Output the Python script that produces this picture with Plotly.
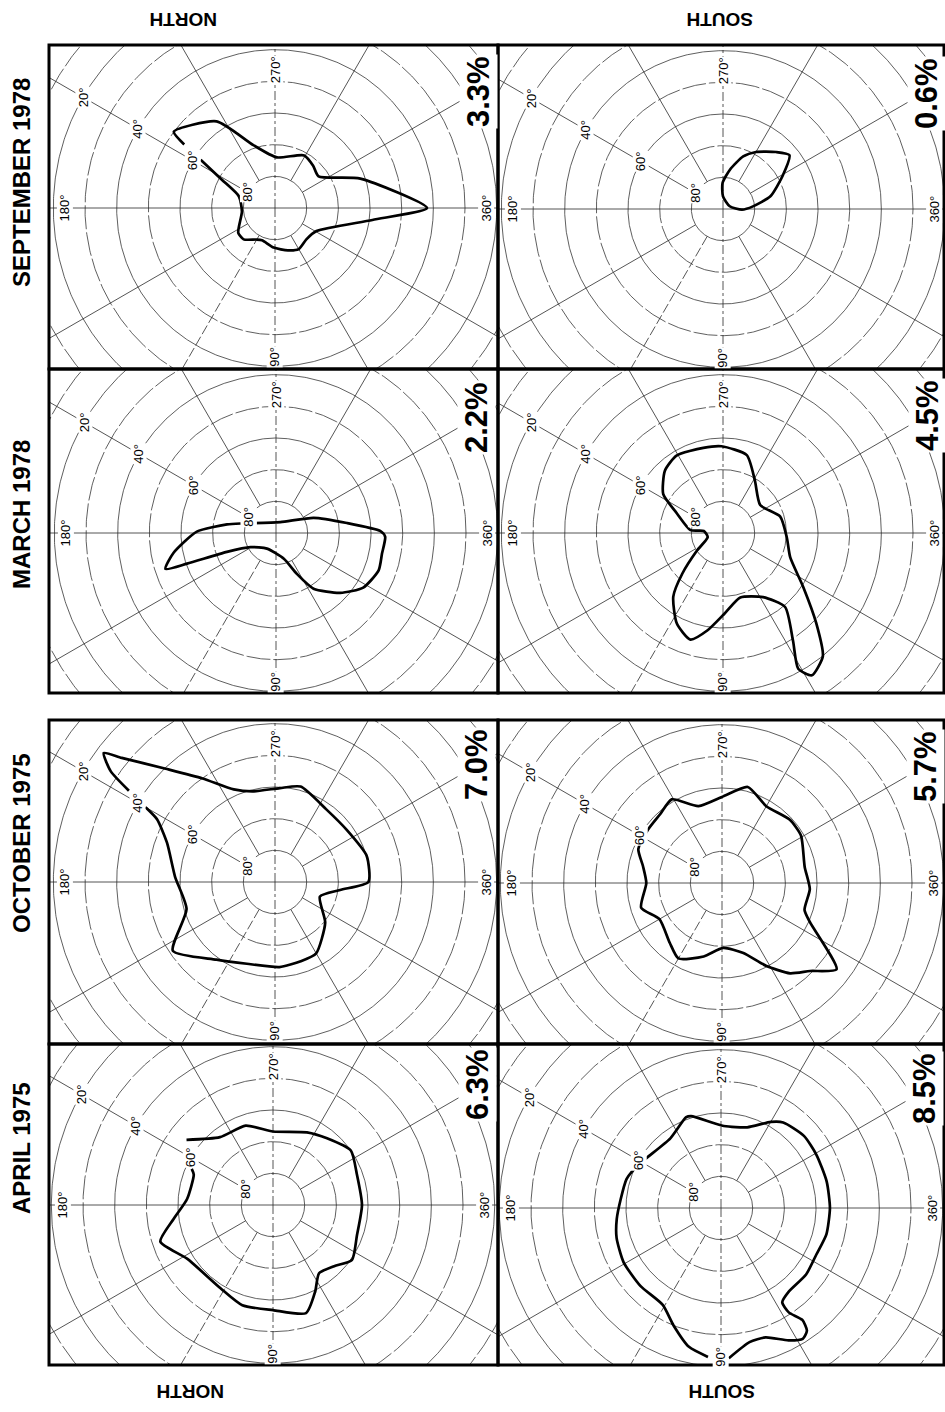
import numpy as np
import plotly.graph_objects as go

# ---------------- data ----------------
row_labels = ["SEPTEMBER 1978", "MARCH 1978", "OCTOBER 1975", "APRIL 1975"]
col_labels = ["NORTH", "SOUTH"]
percent_labels = [["3.3%", "0.6%"], ["2.2%", "4.5%"], ["7.0%", "5.7%"], ["6.3%", "8.5%"]]
lat_ticks = [80, 60, 40, 20]
lon_ticks = [270, 360, 90, 180]

# curves: longitude (deg), latitude (deg)
sep78_north_lon = [215, 217, 236, 251, 272, 299, 312, 324, 341, 0, 7, 29, 45, 60, 73, 92, 112, 120, 135, 146, 174, 198, 208, 213]
sep78_north_lat = [55, 50, 57, 69, 74, 71, 72, 73, 61.5, 42, 59, 75, 76, 75, 76, 77.5, 79, 78.5, 76, 76, 79.5, 78, 71, 62]

sep78_south_lon = [321, 331, 345, 355, 2, 338, 270, 269, 280, 291, 300, 313, 321]
sep78_south_lat = [63, 68.5, 74.5, 80.5, 84, 87.7, 86, 81.8, 77.4, 72.2, 69.2, 65.4, 63]

mar78_north_lon = [204, 292, 338, 352, 359, 2, 11, 20, 32, 43, 56, 63, 73, 120, 151, 159, 161, 162, 169, 181, 190, 195]
mar78_north_lat = [82.3, 86.3, 77.2, 67.4, 57, 55.5, 55.9, 55.5, 57.5, 62.3, 68.8, 75.5, 81.5, 84.3, 80.8, 73.4, 60.3, 53.3, 57, 65, 74.3, 78.4]

mar78_south_lon = [269, 287, 301, 323, 344, 4, 20, 34, 44, 51, 58, 61, 57, 50, 58, 75, 89, 99, 107, 117, 128, 135, 146, 165, 186, 185, 203, 213, 227, 239, 257, 269]
mar78_south_lat = [62.6, 64.3, 70.5, 75.3, 71.2, 69.8, 67.4, 59.4, 49.1, 39.9, 37, 41, 49.4, 59.5, 66.1, 68.9, 64.5, 58.9, 54.8, 57.9, 64.5, 71.8, 80.1, 85, 83.9, 79.7, 74.2, 67.5, 63.1, 61.5, 62.4, 62.6]

oct75_north_lon = [210, 208, 200, 183, 163, 146, 127, 109, 87, 72, 60, 39, 18, 7, 0, 344, 324, 305, 285, 273, 257, 246, 235, 226, 219, 217, 214, 212]
oct75_north_lat = [42.8, 47.8, 53.7, 58.4, 60.8, 51.1, 59.3, 62.7, 63.1, 63.7, 64, 69.6, 75.1, 69.3, 60.5, 59.9, 62, 61.9, 58.8, 60.3, 60.6, 58, 50.1, 40.3, 27.7, 22.3, 27.4, 35.6]

oct75_south_lon = [285, 300, 317, 329, 349, 4, 18, 24, 37, 45, 53, 62, 73, 89, 104, 120, 131, 150, 163, 180, 192, 202, 216, 228, 239, 253, 271, 285]
oct75_south_lat = [58.6, 62, 60.7, 60.9, 63.4, 62.2, 62.6, 59.6, 44.7, 50.7, 54.3, 60.4, 66.9, 69.5, 66.1, 62.5, 64.9, 67.2, 63.3, 66.1, 64.5, 61.5, 61.2, 60.8, 59.2, 64.6, 62.6, 58.6]

apr75_north_lon = [217, 232, 251, 270, 295, 309, 325, 340, 0, 20, 35, 45, 56, 64, 73, 90, 107, 122, 148, 162, 172, 184, 201, 204]
apr75_north_lat = [55.8, 62.8, 63.5, 66.8, 64.7, 62.9, 60, 61.8, 61.9, 61.8, 59.6, 62.7, 64, 59.6, 54.3, 56.8, 56.9, 58.9, 58, 52.6, 58.3, 62.8, 63.2, 61.9]

apr75_south_lon = [95, 103, 112, 121, 136, 151, 164, 174, 185, 197, 202, 211, 234, 249, 252, 272, 288, 300, 306, 319, 331, 346, 0, 14, 26, 38, 51, 57, 57, 54, 55, 58, 63, 71, 78, 87]
apr75_south_lat = [42.8, 45, 50, 54.3, 54.6, 54.8, 55.7, 56.9, 58.2, 58.8, 59.6, 61.2, 62.8, 59.3, 59.5, 64.1, 63.2, 58.6, 56.6, 55.3, 55.5, 55.6, 55.6, 55.7, 56.5, 55.9, 56, 54.5, 50.7, 46.3, 42.7, 41.3, 43.1, 46.8, 46.7, 42.5]

curves = [
    [(sep78_north_lon, sep78_north_lat), (sep78_south_lon, sep78_south_lat)],
    [(mar78_north_lon, mar78_north_lat), (mar78_south_lon, mar78_south_lat)],
    [(oct75_north_lon, oct75_north_lat), (oct75_south_lon, oct75_south_lat)],
    [(apr75_north_lon, apr75_north_lat), (apr75_south_lon, apr75_south_lat)],
]

# ---------------- layout constants ----------------
W, H = 945, 1412
S = 3.1667  # pixels per degree of colatitude
COL_EDGES = [49, 498, 944]
ROW_EDGES = [(45, 369), (369, 693), (720, 1044), (1044, 1365)]
CENTERS = [[(275, 208), (723, 209)], [(276, 533), (723, 533)],
           [(275, 882), (722, 883)], [(273, 1205), (721, 1208)]]
PCT_POS = [[(478, 92), (926, 94)], [(477, 418), (927, 416)],
           [(476, 764), (925, 767)], [(477, 1085), (924, 1089)]]
ROW_LABEL_POS = [(21, 183), (21, 515), (21, 843), (21, 1148)]
COL_LABEL_TOP = [(183, 20), (720, 20)]
COL_LABEL_BOTTOM = [(190, 1392), (722, 1392)]
LON_LABEL_COLAT = {270: 43.5, 360: 66.5, 90: 47, 180: 66.5}
LAT_LABEL_LON = 210
FONT = "Liberation Sans, Arial, sans-serif"
GRID = "#2a2a2a"


def to_xy(lon, lat):
    lon = np.radians(np.asarray(lon, dtype=float))
    colat = 90.0 - np.asarray(lat, dtype=float)
    return colat * np.cos(lon), -colat * np.sin(lon)


def px(x):
    return x / W


def py(y):
    return 1 - y / H


fig = go.Figure()
annotations = []
shapes = []
layout_axes = {}
theta = np.linspace(0, 2 * np.pi, 721)

k = 0
for r in range(4):
    for c in range(2):
        k += 1
        xa = "x" if k == 1 else f"x{k}"
        ya = "y" if k == 1 else f"y{k}"
        cx, cy = CENTERS[r][c]
        x0, x1 = COL_EDGES[c], COL_EDGES[c + 1]
        y0, y1 = ROW_EDGES[r]
        layout_axes["xaxis" if k == 1 else f"xaxis{k}"] = dict(
            domain=[px(x0), px(x1)], range=[(x0 - cx) / S, (x1 - cx) / S],
            visible=False, fixedrange=True, anchor=ya)
        layout_axes["yaxis" if k == 1 else f"yaxis{k}"] = dict(
            domain=[py(y1), py(y0)], range=[(cy - y1) / S, (cy - y0) / S],
            visible=False, fixedrange=True, anchor=xa)

        # rings
        for colats, dash in (([10, 30, 50, 70, 90], "solid"), ([20, 40, 60, 80], "24px,3px")):
            xs, ys = [], []
            for cl in colats:
                xs += list(cl * np.cos(theta)) + [None]
                ys += list(cl * np.sin(theta)) + [None]
            fig.add_trace(go.Scatter(x=xs, y=ys, mode="lines", xaxis=xa, yaxis=ya,
                                     line=dict(color=GRID, width=0.75, dash=dash),
                                     hoverinfo="skip", showlegend=False))
        # meridians
        styles = {"solid": [0, 180, 30, 60, 150, 210, 240, 300, 330],
                  "dashdot": [90, 270], "10px,3px": [120]}
        for dash, lons in styles.items():
            xs, ys = [], []
            for lo in lons:
                start = 0 if lo % 90 == 0 else 10
                a = np.radians(lo)
                xs += [start * np.cos(a), 100 * np.cos(a), None]
                ys += [-start * np.sin(a), -100 * np.sin(a), None]
            fig.add_trace(go.Scatter(x=xs, y=ys, mode="lines", xaxis=xa, yaxis=ya,
                                     line=dict(color=GRID, width=0.8, dash=dash),
                                     hoverinfo="skip", showlegend=False))
        # data curve
        lon, lat = curves[r][c]
        cxs, cys = to_xy(lon, lat)
        fig.add_trace(go.Scatter(x=cxs, y=cys, mode="lines", xaxis=xa, yaxis=ya,
                                 line=dict(color="black", width=2.7, shape="spline", smoothing=0.6),
                                 hoverinfo="skip", showlegend=False))

        # latitude labels along 210 deg meridian
        for lt in lat_ticks:
            lx, ly = to_xy([LAT_LABEL_LON], [lt])
            annotations.append(dict(x=float(lx[0]), y=float(ly[0]), xref=xa, yref=ya,
                                    xanchor="center", yanchor="middle",
                                    text=f"{lt}°", showarrow=False, textangle=-90,
                                    bgcolor="white", borderpad=0,
                                    font=dict(family=FONT, size=13, color="black")))
        # longitude labels
        for lo in lon_ticks:
            lx, ly = to_xy([lo], [90 - LON_LABEL_COLAT[lo]])
            annotations.append(dict(x=float(lx[0]), y=float(ly[0]), xref=xa, yref=ya,
                                    xanchor="center", yanchor="middle",
                                    text=f"{lo}°", showarrow=False, textangle=-90,
                                    bgcolor="white", borderpad=0,
                                    font=dict(family=FONT, size=13, color="black")))
        # percentage
        ppx, ppy = PCT_POS[r][c]
        annotations.append(dict(x=px(ppx), y=py(ppy), xref="paper", yref="paper",
                                xanchor="center", yanchor="middle",
                                text=percent_labels[r][c], showarrow=False, textangle=-90,
                                bgcolor="white", borderpad=1,
                                font=dict(family=FONT, size=31, color="black", weight="bold")))
        # frame
        shapes.append(dict(type="rect", xref="paper", yref="paper",
                           x0=px(x0), x1=px(x1), y0=py(y1), y1=py(y0),
                           line=dict(color="black", width=3), layer="above"))

for i, lab in enumerate(row_labels):
    lx, ly = ROW_LABEL_POS[i]
    annotations.append(dict(x=px(lx), y=py(ly), xref="paper", yref="paper", text=lab,
                            xanchor="center", yanchor="middle",
                            showarrow=False, textangle=-90,
                            font=dict(family=FONT, size=24, color="black", weight="bold")))
for pos_list in (COL_LABEL_TOP, COL_LABEL_BOTTOM):
    for i, lab in enumerate(col_labels):
        lx, ly = pos_list[i]
        annotations.append(dict(x=px(lx), y=py(ly), xref="paper", yref="paper", text=lab,
                                xanchor="center", yanchor="middle",
                                showarrow=False, textangle=180,
                                font=dict(family=FONT, size=19, color="black", weight="bold")))

fig.update_layout(width=W, height=H, autosize=False,
                  margin=dict(l=0, r=0, t=0, b=0),
                  paper_bgcolor="white", plot_bgcolor="white",
                  annotations=annotations, shapes=shapes, **layout_axes)
fig.write_html("out.html", config={"displayModeBar": False},
               post_script="document.body.style.margin='0';document.body.style.overflow='hidden';")
